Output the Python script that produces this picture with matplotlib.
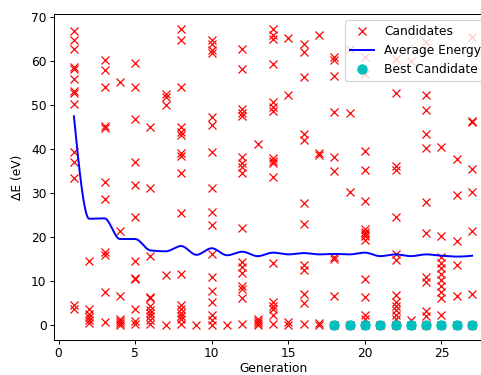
import numpy as np
import matplotlib
matplotlib.use("Agg")
import matplotlib.pyplot as plt

# Candidate energies (eV) found in each generation
candidates = {
    1: [67.0, 64.8, 62.9, 58.7, 58.3, 56.1, 53.2, 52.9, 50.4, 39.4, 37.0, 33.4, 4.5, 3.6],
    2: [14.5, 3.7, 2.5, 1.8, 1.2, 0.6],
    3: [60.2, 58.0, 54.2, 45.4, 44.8, 32.6, 28.8, 16.6, 16.0, 7.6, 0.8],
    4: [55.3, 21.5, 6.7, 1.4, 0.9, 0.4, 0.1],
    5: [59.7, 54.1, 46.8, 37.2, 31.9, 24.6, 14.5, 10.8, 10.4, 3.7, 1.0, 0.3],
    6: [45.1, 31.1, 15.7, 6.4, 6.1, 4.3, 3.5, 2.8, 2.0, 1.2, 0.2],
    7: [52.6, 51.8, 50.1, 11.4, 0.1],
    8: [67.3, 64.8, 54.1, 45.1, 44.0, 43.2, 39.2, 38.4, 34.7, 25.4, 11.7, 4.6, 3.6, 2.8, 2.2, 1.5, 0.3],
    9: [0.1],
    10: [64.9, 64.0, 62.6, 61.8, 47.3, 45.5, 39.4, 31.3, 25.8, 22.7, 16.2, 11.0, 7.8, 5.3, 2.3, 1.2, 0.1],
    11: [0.1],
    12: [62.7, 58.2, 49.1, 48.3, 47.5, 38.2, 36.9, 35.9, 34.5, 22.2, 14.3, 13.2, 11.9, 8.8, 8.3, 6.2, 0.3],
    13: [41.3, 1.5, 1.0, 0.5, 0.1],
    14: [67.3, 65.9, 65.0, 59.4, 50.8, 49.7, 48.7, 38.1, 37.4, 36.8, 33.6, 14.2, 5.2, 4.4, 3.6, 2.4, 0.2],
    15: [65.2, 52.3, 0.7, 0.1],
    16: [63.9, 62.2, 56.4, 43.5, 42.2, 27.9, 23.1, 13.6, 12.5, 7.2, 5.0, 0.2],
    17: [65.9, 39.2, 38.8, 0.5, 0.1],
    18: [61.0, 60.3, 56.6, 48.5, 38.3, 35.1, 15.5, 15.0, 6.6, 0.0],
    19: [62.9, 48.3, 30.3, 0.0],
    20: [61.0, 57.2, 39.7, 35.3, 28.3, 21.8, 21.2, 20.7, 20.2, 19.4, 10.5, 6.4, 2.4, 1.5, 0.0],
    21: [0.0],
    22: [60.6, 52.9, 36.3, 35.3, 24.5, 16.1, 14.8, 6.8, 5.3, 4.3, 3.4, 2.4, 1.5, 0.0],
    23: [60.0, 1.1, 0.0],
    24: [64.4, 52.3, 49.0, 43.4, 40.4, 28.1, 21.0, 11.0, 9.8, 3.2, 2.2, 0.0],
    25: [40.6, 20.3, 15.4, 14.2, 12.9, 11.6, 10.3, 8.9, 7.5, 6.2, 2.4, 0.0],
    26: [37.9, 29.5, 19.2, 13.7, 6.6, 0.0],
    27: [65.5, 46.5, 46.1, 35.6, 30.3, 21.4, 7.2, 0.0],
}

# Average energy per generation
avg_generations = list(range(1, 28))
avg_energy = [47.5, 24.2, 24.3, 19.6, 19.6, 17.0, 16.8, 18.0, 16.0, 17.5,
              15.9, 16.7, 15.7, 16.5, 16.1, 16.4, 16.1, 16.2, 16.1, 16.5,
              15.7, 16.1, 15.7, 16.1, 15.8, 15.6, 15.8]

# Best candidate energy per generation
best_generations = list(range(18, 28))
best_energy = [0.0] * 10


def pchip(x, y, xs):
    """Shape-preserving piecewise cubic Hermite interpolation."""
    x = np.asarray(x, float)
    y = np.asarray(y, float)
    h = np.diff(x)
    delta = np.diff(y) / h
    n = len(x)
    d = np.zeros(n)
    for k in range(1, n - 1):
        if delta[k - 1] * delta[k] > 0:
            w1 = 2 * h[k] + h[k - 1]
            w2 = h[k] + 2 * h[k - 1]
            d[k] = (w1 + w2) / (w1 / delta[k - 1] + w2 / delta[k])

    def end_slope(h0, h1, d0, d1):
        s = ((2 * h0 + h1) * d0 - h0 * d1) / (h0 + h1)
        if np.sign(s) != np.sign(d0):
            s = 0.0
        elif np.sign(d0) != np.sign(d1) and abs(s) > abs(3 * d0):
            s = 3 * d0
        return s

    d[0] = end_slope(h[0], h[1], delta[0], delta[1])
    d[-1] = end_slope(h[-1], h[-2], delta[-1], delta[-2])

    idx = np.clip(np.searchsorted(x, xs) - 1, 0, n - 2)
    t = (xs - x[idx]) / h[idx]
    h00 = 2 * t ** 3 - 3 * t ** 2 + 1
    h10 = t ** 3 - 2 * t ** 2 + t
    h01 = -2 * t ** 3 + 3 * t ** 2
    h11 = t ** 3 - t ** 2
    return (h00 * y[idx] + h10 * h[idx] * d[idx]
            + h01 * y[idx + 1] + h11 * h[idx] * d[idx + 1])


cand_x = [g for g, vals in candidates.items() for _ in vals]
cand_y = [v for vals in candidates.values() for v in vals]

fig = plt.figure(figsize=(481 / 88, 375 / 88), dpi=88)
ax = fig.add_axes([54 / 481, 35 / 375, 438 / 481, 326 / 375])

ax.plot(cand_x, cand_y, 'rx', linestyle='none', markersize=6.3,
        label='Candidates')
xs = np.linspace(avg_generations[0], avg_generations[-1], 600)
ax.plot(xs, pchip(avg_generations, avg_energy, xs), 'b-',
        linewidth=1.6, label='Average Energy')
ax.plot(best_generations, best_energy, 'co', markersize=7.5,
        linestyle='none', label='Best Candidate')

ax.set_xlim(-0.3, 28.3)
ax.set_ylim(-3.37, 70.77)
ax.set_xticks([0, 5, 10, 15, 20, 25])
ax.set_yticks(range(0, 71, 10))
ax.tick_params(length=3.2, pad=2.8)
ax.set_xlabel('Generation', labelpad=1.5)
ax.set_ylabel('ΔE (eV)', labelpad=6)
ax.legend(loc='upper right')

fig.savefig('out.png', dpi=88)
